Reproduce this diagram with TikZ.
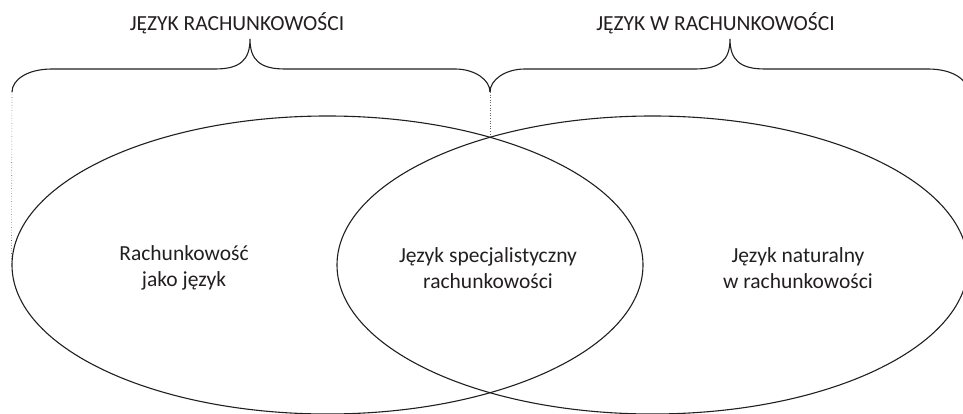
\documentclass[tikz,border=0pt]{standalone}
\usepackage{fontspec}
\setmainfont{Carlito}
\usetikzlibrary{shapes.geometric}
\definecolor{ink}{HTML}{231F20}
\begin{document}
\begin{tikzpicture}[x=1pt,y=-1pt,
  oval/.style={draw=ink,line width=1.1pt,ellipse,minimum width=631pt,minimum height=298pt,inner sep=0pt},
  brace/.style={draw=ink,line width=1.1pt},
  guide/.style={draw=ink!70,line width=0.6pt,dotted},
  lbl/.style={text=ink,font=\fontsize{21.5}{26.5}\selectfont,align=center,inner sep=0pt},
  head/.style={text=ink,font=\fontsize{21.5}{26}\selectfont,inner sep=0pt,anchor=base}]
\clip (0,0) rectangle (963,414);
\useasboundingbox (0,0) rectangle (963,414);
\node[oval] (L) at (327.5,265) {};
\node[oval] (R) at (652.5,265) {};
\coordinate (top) at (490,137);
\coordinate (lb) at (12,92);
\coordinate (mb) at (490,92);
\coordinate (rb) at (968,92);
\draw[brace] (lb) .. controls (12,80) and (27,69) .. (52,69) -- (215,69)
  .. controls (240,69) and (250,60) .. (250,39)
  .. controls (250,60) and (260,69) .. (285,69) -- (455,69)
  .. controls (475,69) and (490,80) .. (mb);
\draw[brace] (mb) .. controls (490,80) and (505,69) .. (525,69) -- (695,69)
  .. controls (720,69) and (730,60) .. (730,39)
  .. controls (730,60) and (740,69) .. (765,69) -- (928,69)
  .. controls (953,69) and (968,80) .. (rb);
\draw[guide] (lb) -- (L.west);
\draw[guide] (mb) -- (top);
\node[head] (h1) at (237,31) {JĘZYK RACHUNKOWOŚCI};
\node[head] (h2) at (715.5,31) {JĘZYK W RACHUNKOWOŚCI};
\node[lbl] (t1) at (184,268) {Rachunkowość\\jako język};
\node[lbl] (t2) at (488,268) {Język specjalistyczny\\rachunkowości};
\node[lbl] (t3) at (798,268) {Język naturalny\\w rachunkowości};
\end{tikzpicture}
\end{document}
